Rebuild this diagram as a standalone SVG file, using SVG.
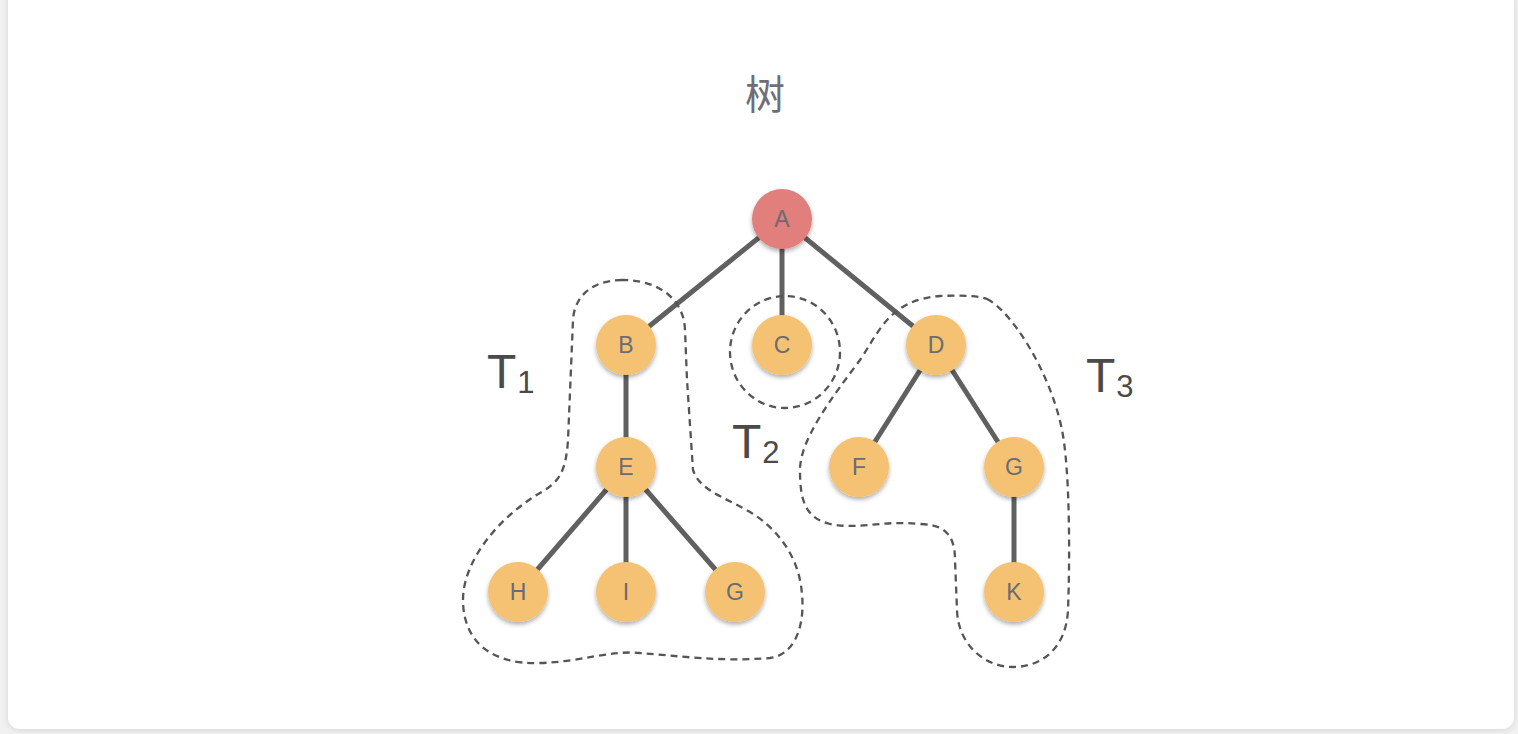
<svg xmlns="http://www.w3.org/2000/svg" width="1518" height="734" viewBox="0 0 1518 734">
<defs>
<filter id="sh" x="-30%" y="-30%" width="160%" height="170%">
<feDropShadow dx="0" dy="2.5" stdDeviation="2" flood-color="#000" flood-opacity="0.32"/>
</filter>
<filter id="card" x="-2%" y="-2%" width="104%" height="104%">
<feDropShadow dx="0" dy="1" stdDeviation="3" flood-color="#000" flood-opacity="0.12"/>
</filter>
<style>
.n{fill:#F5C273;filter:url(#sh)}
.r{fill:#E07F7C;filter:url(#sh)}
.t{font-family:"Liberation Sans",Arial,sans-serif;font-size:23px;fill:#6b6b72;text-anchor:middle}
.e{stroke:#606060;stroke-width:5;fill:none}
.d{stroke:#555;stroke-width:2.3;stroke-dasharray:7 5;fill:none}
.lab{font-family:"Liberation Sans",Arial,sans-serif;fill:#4a4a4a}
</style>
</defs>
<rect width="1518" height="734" fill="#f1f1f1"/>
<rect x="8" y="-12" width="1506" height="741" rx="12" fill="#fff" filter="url(#card)"/>
<text x="765" y="109" font-family="'Noto Sans CJK SC',sans-serif" font-size="40" fill="#6e6e78" text-anchor="middle">树</text>
<g id="connectors">
<line class="e" x1="782" y1="219" x2="626" y2="345"/>
<line class="e" x1="782" y1="219" x2="782" y2="345"/>
<line class="e" x1="782" y1="219" x2="936" y2="345"/>
<line class="e" x1="626" y1="345" x2="626" y2="467"/>
<line class="e" x1="626" y1="467" x2="518" y2="592"/>
<line class="e" x1="626" y1="467" x2="626" y2="592"/>
<line class="e" x1="626" y1="467" x2="735" y2="592"/>
<line class="e" x1="936" y1="345" x2="859" y2="467"/>
<line class="e" x1="936" y1="345" x2="1014" y2="467"/>
<line class="e" x1="1014" y1="467" x2="1014" y2="592"/>
</g>
<g id="subtrees">
<path class="d" d="M622 280 C600 280 575 290 573 320 L568 440 C566 470 560 480 545 490 C500 515 463 560 463 600 C463 640 490 665 540 663 C580 662 610 650 640 653 C680 656 720 662 770 658 C795 655 805 625 802 595 C800 560 780 530 750 512 C720 495 700 490 693 470 L687 380 L685 330 C684 300 660 280 622 280 Z"/>
<ellipse class="d" cx="785" cy="352" rx="55" ry="56"/>
<path class="d" d="M987 299 C1010 310 1050 370 1062 430 C1070 470 1070 560 1068 610 C1066 650 1040 667 1013 667 C985 667 958 645 957 610 L955 560 C955 530 940 525 920 524 C880 520 860 530 830 524 C805 518 800 500 800 470 C800 440 830 400 860 360 C880 330 890 300 940 296 C965 295 980 296 987 299 Z"/>
</g>
<g id="labels">
<text class="lab" x="487" y="388" font-size="48">T<tspan font-size="31" dx="1" dy="5">1</tspan></text>
<text class="lab" x="732" y="458" font-size="48">T<tspan font-size="31" dx="1" dy="5">2</tspan></text>
<text class="lab" x="1086" y="392" font-size="48">T<tspan font-size="31" dx="1" dy="5">3</tspan></text>
</g>
<g id="A"><circle class="r" cx="782" cy="219" r="30"/><text class="t" x="782" y="227">A</text></g>
<g id="B"><circle class="n" cx="626" cy="345" r="30"/><text class="t" x="626" y="353">B</text></g>
<g id="C"><circle class="n" cx="782" cy="345" r="30"/><text class="t" x="782" y="353">C</text></g>
<g id="D"><circle class="n" cx="936" cy="345" r="30"/><text class="t" x="936" y="353">D</text></g>
<g id="E"><circle class="n" cx="626" cy="467" r="30"/><text class="t" x="626" y="475">E</text></g>
<g id="F"><circle class="n" cx="859" cy="467" r="30"/><text class="t" x="859" y="475">F</text></g>
<g id="G"><circle class="n" cx="1014" cy="467" r="30"/><text class="t" x="1014" y="475">G</text></g>
<g id="H"><circle class="n" cx="518" cy="592" r="30"/><text class="t" x="518" y="600">H</text></g>
<g id="I"><circle class="n" cx="626" cy="592" r="30"/><text class="t" x="626" y="600">I</text></g>
<g id="G2"><circle class="n" cx="735" cy="592" r="30"/><text class="t" x="735" y="600">G</text></g>
<g id="K"><circle class="n" cx="1014" cy="592" r="30"/><text class="t" x="1014" y="600">K</text></g>
</svg>
